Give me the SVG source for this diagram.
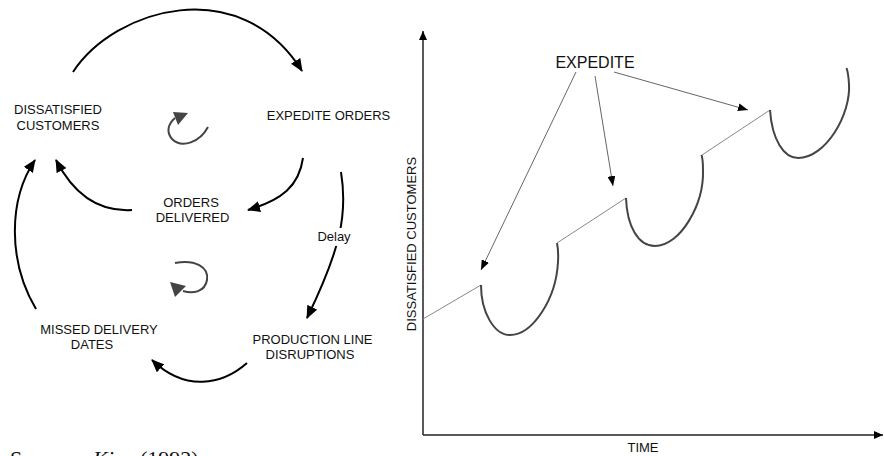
<svg xmlns="http://www.w3.org/2000/svg" width="884" height="456" viewBox="0 0 884 456">
<style>
.lbl{font-family:"Liberation Sans",Arial,sans-serif;font-size:13px;fill:#111;text-anchor:middle}
.big{font-family:"Liberation Sans",Arial,sans-serif;font-size:16px;fill:#111;text-anchor:middle}
.arr{fill:none;stroke:#000;stroke-width:2}
.loop{fill:none;stroke:#444;stroke-width:2}
.thin{fill:none;stroke:#888;stroke-width:1}
.thick{fill:none;stroke:#444;stroke-width:2}
.axis{fill:none;stroke:#222;stroke-width:1.5}
.src{font-family:"Liberation Serif","Times New Roman",serif;font-size:22px;fill:#111}
</style>
<defs>
<marker id="ah" viewBox="0 0 13 11" refX="12" refY="5.5" markerWidth="13" markerHeight="11" markerUnits="userSpaceOnUse" orient="auto"><path d="M0,0 L13,5.5 L0,11 z" fill="#000"/></marker>
<marker id="ta" viewBox="0 0 10 8" refX="10" refY="4" markerWidth="10" markerHeight="8" markerUnits="userSpaceOnUse" orient="auto"><path d="M0,0 L10,4 L0,8 z" fill="#000"/></marker>
<marker id="xa" viewBox="0 0 9 8" refX="9" refY="4" markerWidth="9" markerHeight="8" markerUnits="userSpaceOnUse" orient="auto"><path d="M0,0 L9,4 L0,8 z" fill="#000"/></marker>
</defs>

<g id="dissatisfied-customers"><text class="lbl" x="58" y="114">DISSATISFIED</text><text class="lbl" x="58" y="130">CUSTOMERS</text></g>
<g id="expedite-orders"><text class="lbl" x="328.5" y="120">EXPEDITE ORDERS</text></g>
<g id="orders-delivered"><text class="lbl" x="191" y="207">ORDERS</text><text class="lbl" x="192.5" y="222">DELIVERED</text></g>
<g id="missed-delivery"><text class="lbl" x="99" y="334">MISSED DELIVERY</text><text class="lbl" x="92" y="349">DATES</text></g>
<g id="production-line"><text class="lbl" x="312.5" y="344">PRODUCTION LINE</text><text class="lbl" x="310" y="359">DISRUPTIONS</text></g>

<g id="connectors">
<path class="arr" d="M73,72 C 115,8 240,-28 302,71" marker-end="url(#ah)"/>
<path class="arr" d="M303,158 C 299,186 282,200 248,210" marker-end="url(#ah)"/>
<path class="arr" d="M132,210 C 100,212 74,195 56,160" marker-end="url(#ah)"/>
<path class="arr" d="M36,309 C 8,262 8,200 35,160" marker-end="url(#ah)"/>
<path class="arr" d="M341,172 C 348,215 340,250 307,318" marker-end="url(#ah)"/>
<rect x="316" y="228" width="36" height="18" fill="#fff"/>
<text class="lbl" x="334" y="240.5">Delay</text>
<path class="arr" d="M247,363 C 222,385 185,392 152,360" marker-end="url(#ah)"/>
</g>

<g id="loop-upper">
<path class="loop" d="M208,127 C 200,142 182,149 172,139 C 166,132 168,124 175,118"/>
<polygon points="173,112 188,113 178,125" fill="#444"/>
</g>
<g id="loop-lower">
<path class="loop" d="M175,263 C 195,259 209,267 207,280 C 205,292 193,294 183,291"/>
<polygon points="170,282 186,286 175,297" fill="#444"/>
</g>

<g id="chart">
<path class="axis" d="M423,435 L423,31" marker-end="url(#xa)"/>
<path class="axis" d="M423,435 L883,435" marker-end="url(#xa)"/>
<text class="lbl" transform="translate(416,244) rotate(-90)">DISSATISFIED CUSTOMERS</text>
<text class="lbl" x="643" y="452">TIME</text>
<text class="big" x="595" y="67.5">EXPEDITE</text>
<path d="M576,72 L481,270" stroke="#666" stroke-width="1" fill="none" marker-end="url(#ta)"/>
<path d="M595,76 L613,186" stroke="#666" stroke-width="1" fill="none" marker-end="url(#ta)"/>
<path d="M614,72 L748,110" stroke="#666" stroke-width="1" fill="none" marker-end="url(#ta)"/>
<path class="thin" d="M423,319 L481,285"/>
<path class="thick" d="M481,285 C 481,312 494,335 510,335 C 532,335 556,300 558,262 C 558.5,254 558,248 557,243"/>
<path class="thin" d="M557,243 L626,198"/>
<path class="thick" d="M626,198 C 627,226 638,246 655,246 C 680,246 704,205 703,170 C 703,163 702.5,158 701.5,155"/>
<path class="thin" d="M702,155 L770,110"/>
<path class="thick" d="M770,110 C 772,140 784,158 798,158 C 826,158 851,114 849,84 C 848.5,76 848,72 846.5,68"/>
</g>

<text class="src" y="466"><tspan x="10">Source:</tspan><tspan x="93" font-style="italic">King</tspan><tspan x="140">(1992)</tspan></text>
</svg>
